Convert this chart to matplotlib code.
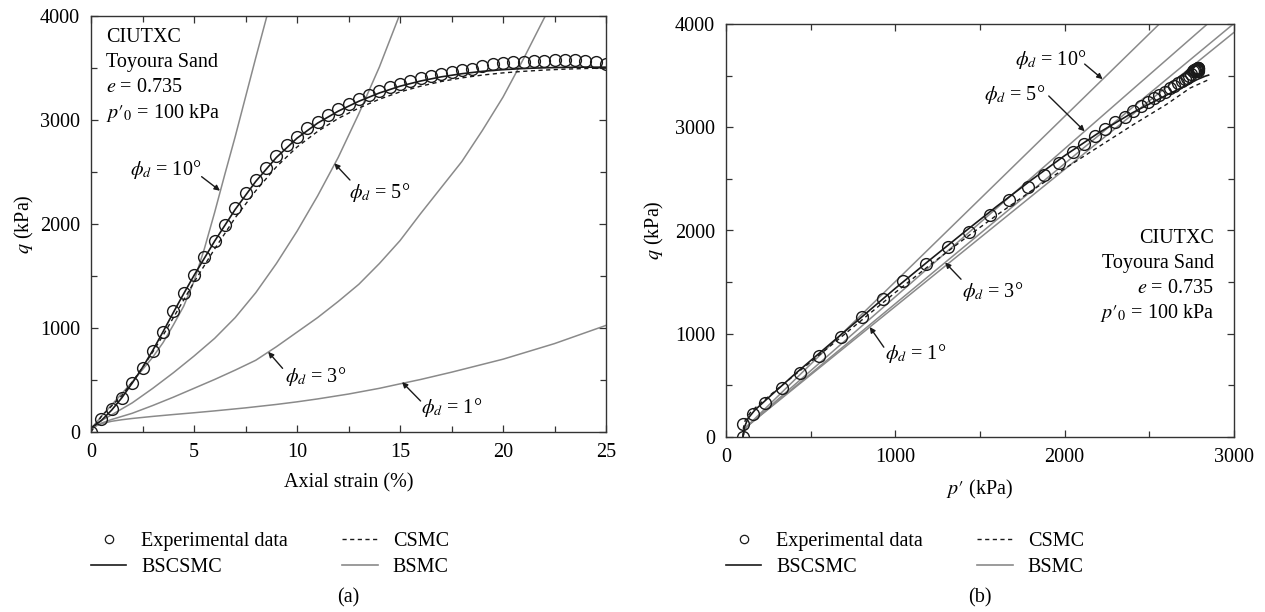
import matplotlib
matplotlib.use("Agg")
import matplotlib.pyplot as plt
from matplotlib.ticker import MultipleLocator

plt.rcParams['font.family'] = ['Liberation Serif', 'DejaVu Serif']
plt.rcParams['mathtext.fontset'] = 'stix'
FS = 14.5

# ---------------- panel (a): q vs axial strain ----------------
exp_strain = [0, 0.5, 1, 1.5, 2, 2.5, 3, 3.5, 4, 4.5, 5, 5.5, 6, 6.5, 7, 7.5, 8, 8.5, 9, 9.5,
              10, 10.5, 11, 11.5, 12, 12.5, 13, 13.5, 14, 14.5, 15, 15.5, 16, 16.5, 17, 17.5,
              18, 18.5, 19, 19.5, 20, 20.5, 21, 21.5, 22, 22.5, 23, 23.5, 24, 24.5, 25]
exp_q = [0, 125, 220, 325, 470, 620, 780, 965, 1160, 1340, 1510, 1680, 1840, 1990, 2150, 2295,
         2425, 2540, 2655, 2757, 2840, 2920, 2985, 3048, 3103, 3154, 3202, 3242, 3280, 3315,
         3346, 3378, 3401, 3425, 3447, 3465, 3480, 3493, 3519, 3540, 3551, 3556, 3561, 3563,
         3567, 3577, 3577, 3577, 3567, 3557, 3540]
exp_p = [100, 101, 160, 228, 330, 437, 549, 680, 802, 925, 1045, 1180, 1310, 1437, 1557, 1672,
         1782, 1877, 1968, 2050, 2115, 2180, 2240, 2300, 2355, 2402, 2450, 2490, 2525, 2558,
         2590, 2620, 2645, 2668, 2690, 2708, 2722, 2735, 2748, 2758, 2766, 2772, 2777, 2781,
         2784, 2787, 2789, 2790, 2790, 2789, 2786]

bsc_strain = [0, 0.5, 1, 1.5, 2, 2.5, 3, 3.5, 4, 4.5, 5, 6, 7, 8, 9, 10, 11, 12, 13, 14, 15,
              16, 17, 18, 19, 20, 21, 22, 23, 24, 25]
bsc_q = [40, 110, 210, 330, 470, 620, 785, 965, 1150, 1330, 1505, 1835, 2140, 2410, 2640, 2825,
         2970, 3085, 3180, 3260, 3325, 3375, 3415, 3445, 3468, 3484, 3495, 3502, 3506, 3508, 3508]
cs_strain = bsc_strain
cs_q = [0, 150, 250, 350, 480, 620, 770, 930, 1100, 1270, 1440, 1760, 2060, 2320, 2550, 2740,
        2890, 3015, 3115, 3200, 3270, 3325, 3370, 3405, 3432, 3453, 3468, 3480, 3489, 3495, 3500]

b1_strain = [0, 0.25, 0.5, 1, 1.5, 2, 3, 4, 5, 6, 7.5, 9, 10, 11, 12.5, 14, 15, 16, 17.5, 19,
             20, 21, 22.5, 24, 25]
b1_q = [30, 60, 80, 103, 118, 130, 150, 168, 185, 203, 232, 265, 290, 318, 365, 420, 463, 505,
        575, 650, 700, 760, 850, 955, 1025]
b3_strain = [0, 0.25, 0.5, 1, 2, 3, 4, 5, 6, 7, 8, 9, 10, 11, 12, 13, 14, 15, 16, 17, 18, 19,
             20, 21, 22, 22.05]
b3_q = [30, 60, 85, 120, 180, 255, 335, 420, 505, 595, 690, 820, 960, 1100, 1255, 1420, 1620,
        1840, 2100, 2350, 2600, 2900, 3220, 3590, 3980, 4000]
b5_strain = [0, 0.25, 0.5, 1, 2, 3, 4, 5, 6, 7, 8, 9, 10, 11, 12, 13, 14, 14.96]
b5_q = [30, 75, 110, 165, 280, 420, 570, 730, 900, 1100, 1340, 1620, 1930, 2270, 2640, 3060,
        3510, 4000]
b10_strain = [0, 0.5, 1, 1.5, 2, 2.5, 3, 3.5, 4, 4.5, 5, 5.5, 6, 6.5, 7, 7.5, 8, 8.54]
b10_q = [30, 150, 260, 370, 480, 600, 720, 860, 1030, 1210, 1450, 1760, 2110, 2480, 2840, 3220,
         3600, 4000]

# ---------------- panel (b): q vs p' ----------------
bsc_p = [100, 110, 130, 170, 250, 400, 600, 800, 1000, 1200, 1400, 1600, 1800, 2000, 2200,
         2400, 2600, 2700, 2780, 2830, 2850]
bsc_pq = [0, 100, 180, 260, 380, 600, 880, 1160, 1440, 1710, 1975, 2235, 2485, 2725, 2945,
          3140, 3310, 3390, 3460, 3495, 3505]
cs_p = [100, 103, 115, 150, 220, 330, 450, 600, 800, 1000, 1200, 1400, 1600, 1800, 2000, 2200,
        2400, 2600, 2741, 2849]
cs_pq = [0, 90, 170, 250, 350, 500, 660, 860, 1130, 1400, 1660, 1910, 2150, 2380, 2600, 2810,
         3020, 3220, 3380, 3460]
bsm_p_start = [100, 106, 122]
bsm_q_start = [0, 45, 100]
b1_p_end, b1_pq_end = 3000, 3919
b3_p_end, b3_pq_end = 3000, 4005
b5_p_end, b5_pq_end = 2843, 4000
b10_p_end, b10_pq_end = 2559, 4000

GRAY = '#8a8a8a'
BLACK = '#1a1a1a'
P0 = "$p′_0$ = 100 kPa"

fig = plt.figure(figsize=(12.65, 6.12), dpi=100)
axa = fig.add_axes([91 / 1265, 1 - 432 / 612, 515 / 1265, 416 / 612])
axb = fig.add_axes([726 / 1265, 1 - 437 / 612, 508 / 1265, 413 / 612])


def style(ax):
    for s in ax.spines.values():
        s.set_color('#333333')
        s.set_linewidth(1.0)
    ax.tick_params(which='both', direction='in', top=True, right=True, colors='#333333',
                   labelcolor='black', labelsize=FS, pad=8)
    ax.tick_params(which='major', length=5, width=0.9)
    ax.tick_params(which='minor', length=4, width=0.9)


def legend(ax, left_px):
    h = [plt.Line2D([], [], ls='none', marker='o', mfc='white', mec=BLACK, ms=6, mew=0.9),
         plt.Line2D([], [], color=BLACK, lw=1.2),
         plt.Line2D([], [], color=BLACK, lw=1.0, ls=(0, (3, 2.5))),
         plt.Line2D([], [], color=GRAY, lw=1.2)]
    lab = ['Experimental data', 'BSCSMC', 'CSMC', 'BSMC']
    ax.legend(h, lab, loc='upper left', bbox_to_anchor=(left_px / 1265, 1 - 532 / 612),
              bbox_transform=fig.transFigure, borderaxespad=0,
              borderpad=0, frameon=False, ncol=2, handlelength=1.75, handletextpad=0.75,
              columnspacing=2.7, labelspacing=0.32, fontsize=FS)


def arrow(ax, text, xy, xytext):
    ax.annotate('', xy=xy, xytext=xytext,
                arrowprops=dict(arrowstyle='-|>', color=BLACK, lw=1.0, mutation_scale=8,
                                shrinkA=0, shrinkB=0))
    ax.text(*text[1], text[0], fontsize=FS, ha='center', va='center')


# panel (a)
ax = axa
for xs, ys in [(b1_strain, b1_q), (b3_strain, b3_q), (b5_strain, b5_q), (b10_strain, b10_q)]:
    ax.plot(xs, ys, color=GRAY, lw=1.1)
ax.plot(cs_strain, cs_q, color=BLACK, lw=1.0, ls=(0, (3, 2.5)))
ax.plot(bsc_strain, bsc_q, color=BLACK, lw=1.2)
ax.plot(exp_strain, exp_q, ls='none', marker='o', ms=8.5, mfc='none', mec=BLACK, mew=1.0)
ax.set_xlim(0, 25)
ax.set_ylim(0, 4000)
ax.xaxis.set_major_locator(MultipleLocator(5))
ax.xaxis.set_minor_locator(MultipleLocator(2.5))
ax.yaxis.set_major_locator(MultipleLocator(1000))
ax.yaxis.set_minor_locator(MultipleLocator(500))
style(ax)
ax.set_xlabel('Axial strain (%)', fontsize=FS, labelpad=8)
ax.set_ylabel(r'$q$ (kPa)', fontsize=FS, labelpad=3)
for t, y in zip(['CIUTXC', 'Toyoura Sand', r'$e$ = 0.735', P0], [3790, 3550, 3310, 3070]):
    ax.text(0.73, y, t, fontsize=FS, ha='left', va='center')
arrow(ax, (r'$\phi_d$ = 10°', (3.6, 2520)), (6.26, 2320), (5.37, 2455))
arrow(ax, (r'$\phi_d$ = 5°', (14.0, 2300)), (11.81, 2584), (12.57, 2423))
arrow(ax, (r'$\phi_d$ = 3°', (10.9, 530)), (8.6, 771), (9.3, 612))
arrow(ax, (r'$\phi_d$ = 1°', (17.5, 232)), (15.1, 480), (16.0, 298))
legend(ax, 91)
fig.text((91 + 606) / 2 / 1265, 1 - 598 / 612, '(a)', fontsize=FS, ha='center', va='center')

# panel (b)
ax = axb
for pe, qe in [(b1_p_end, b1_pq_end), (b3_p_end, b3_pq_end), (b5_p_end, b5_pq_end),
               (b10_p_end, b10_pq_end)]:
    ax.plot(bsm_p_start + [pe], bsm_q_start + [qe], color=GRAY, lw=1.1)
ax.plot(cs_p, cs_pq, color=BLACK, lw=1.0, ls=(0, (3, 2.5)))
ax.plot(bsc_p, bsc_pq, color=BLACK, lw=1.2)
ax.plot(exp_p, exp_q, ls='none', marker='o', ms=8.5, mfc='none', mec=BLACK, mew=1.0)
ax.set_xlim(0, 3000)
ax.set_ylim(0, 4000)
ax.xaxis.set_major_locator(MultipleLocator(1000))
ax.xaxis.set_minor_locator(MultipleLocator(500))
ax.yaxis.set_major_locator(MultipleLocator(1000))
ax.yaxis.set_minor_locator(MultipleLocator(500))
style(ax)
ax.set_xlabel("$p′$ (kPa)", fontsize=FS, labelpad=8)
ax.set_ylabel(r'$q$ (kPa)', fontsize=FS, labelpad=6)
for t, y in zip(['CIUTXC', 'Toyoura Sand', r'$e$ = 0.735', P0], [1920, 1680, 1440, 1200]):
    ax.text(2882, y, t, fontsize=FS, ha='right', va='center')
arrow(ax, (r'$\phi_d$ = 10°', (1918, 3661)), (2224, 3466), (2118, 3612))
arrow(ax, (r'$\phi_d$ = 5°', (1706, 3319)), (2118, 2961), (1906, 3303))
arrow(ax, (r'$\phi_d$ = 3°', (1576, 1414)), (1294, 1690), (1388, 1528))
arrow(ax, (r'$\phi_d$ = 1°', (1120, 805)), (849, 1065), (932, 870))
legend(ax, 726)
fig.text((726 + 1234) / 2 / 1265, 1 - 598 / 612, '(b)', fontsize=FS, ha='center', va='center')

fig.savefig('out.png', dpi=100)
